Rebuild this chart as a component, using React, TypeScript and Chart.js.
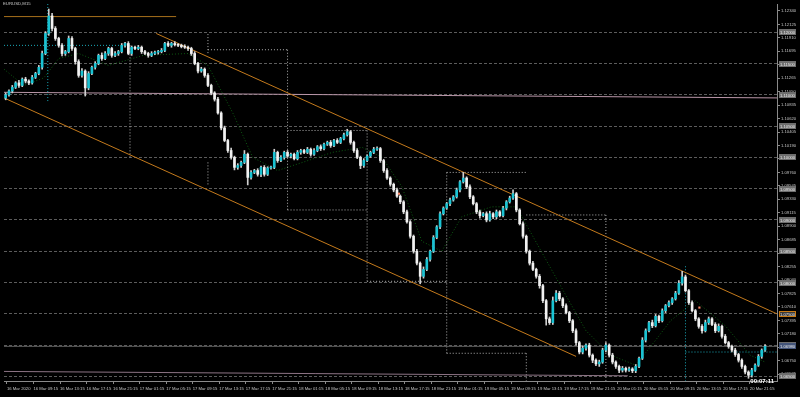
import React, { useEffect, useRef } from "react";
import { Chart, registerables } from "chart.js";
Chart.register(...registerables);

const chartTitle = "EURUSD,M15";
const timerText = "00:07:11";

const priceMin = 1.06427;
const priceMax = 1.12451;
const indexMin = -0.5;
const indexMax = 232.6;

const firstOpen = 1.1095;
const closes = [
  1.1100, 1.1106, 1.1112, 1.1119, 1.1115, 1.1125, 1.1122, 1.1119, 1.1128, 1.1134,
  1.1144, 1.1166, 1.1198, 1.1226, 1.1206, 1.1190, 1.1179, 1.1166, 1.1169, 1.1190,
  1.1174, 1.1153, 1.1131, 1.1138, 1.1111, 1.1134, 1.1144, 1.1150, 1.1163, 1.1158,
  1.1166, 1.1174, 1.1163, 1.1166, 1.1169, 1.1179, 1.1182, 1.1166, 1.1176, 1.1174,
  1.1176, 1.1169, 1.1166, 1.1163, 1.1166, 1.1168, 1.1169, 1.1171, 1.1182, 1.1179,
  1.1182, 1.1180, 1.1179, 1.1177, 1.1176, 1.1174, 1.1166, 1.1150, 1.1138, 1.1141,
  1.1131, 1.1115, 1.1103, 1.1093, 1.1071, 1.1047, 1.1027, 1.1011, 1.1000, 1.0984,
  1.0987, 1.0992, 1.1005, 1.0968, 1.0976, 1.0979, 1.0973, 1.0984, 1.0973, 1.0983,
  1.0984, 1.1008, 1.0995, 1.1000, 1.1008, 1.1002, 1.1005, 1.0998, 1.1008, 1.1011,
  1.1008, 1.1013, 1.1005, 1.1011, 1.1017, 1.1014, 1.1021, 1.1024, 1.1019, 1.1027,
  1.1024, 1.1030, 1.1036, 1.1041, 1.1024, 1.1011, 1.1000, 1.0987, 1.0995, 1.1002,
  1.1008, 1.1013, 1.1014, 1.0995, 1.0979, 1.0967, 1.0957, 1.0948, 1.0938, 1.0929,
  1.0913, 1.0897, 1.0874, 1.0850, 1.0831, 1.0810, 1.0821, 1.0837, 1.0850, 1.0872,
  1.0889, 1.0910, 1.0919, 1.0926, 1.0932, 1.0937, 1.0948, 1.0961, 1.0967, 1.0953,
  1.0937, 1.0926, 1.0913, 1.0907, 1.0910, 1.0900, 1.0910, 1.0905, 1.0913, 1.0907,
  1.0919, 1.0929, 1.0935, 1.0942, 1.0916, 1.0894, 1.0874, 1.0850, 1.0831, 1.0821,
  1.0810, 1.0795, 1.0771, 1.0742, 1.0736, 1.0771, 1.0783, 1.0774, 1.0763, 1.0752,
  1.0739, 1.0723, 1.0704, 1.0689, 1.0695, 1.0700, 1.0684, 1.0676, 1.0670, 1.0673,
  1.0692, 1.0700, 1.0684, 1.0673, 1.0666, 1.0660, 1.0663, 1.0660, 1.0662, 1.0659,
  1.0666, 1.0679, 1.0708, 1.0723, 1.0736, 1.0731, 1.0746, 1.0739, 1.0755, 1.0763,
  1.0768, 1.0774, 1.0783, 1.0799, 1.0809, 1.0787, 1.0768, 1.0755, 1.0742, 1.0730,
  1.0723, 1.0736, 1.0742, 1.0733, 1.0723, 1.0730, 1.0714, 1.0704, 1.0698, 1.0692,
  1.0685, 1.0676, 1.0666, 1.0657, 1.0652, 1.0660, 1.0668, 1.0682, 1.0692, 1.0698,
];

const wickUpPips = [
  3, 2, 3, 2, 4, 2, 3, 2, 3, 2, 3, 4, 3, 11, 4, 3, 2, 3, 2, 4,
  3, 2, 3, 4, 2, 3, 2, 3, 2, 4, 3, 2, 2, 3, 2, 3, 2, 3, 2, 2,
  3, 2, 2, 2, 3, 2, 2, 3, 2, 3, 2, 3, 2, 2, 3, 2, 2, 3, 2, 3,
  2, 3, 2, 2, 3, 2, 3, 2, 4, 2, 3, 2, 6, 2, 3, 2, 3, 2, 3, 2,
  2, 5, 2, 3, 2, 3, 2, 2, 3, 2, 2, 3, 2, 3, 2, 3, 2, 2, 3, 2,
  3, 2, 3, 4, 2, 2, 3, 2, 3, 2, 2, 3, 3, 2, 2, 3, 2, 2, 3, 2,
  2, 3, 2, 2, 3, 2, 4, 3, 2, 3, 2, 3, 2, 2, 3, 2, 3, 2, 9, 2,
  3, 2, 2, 3, 2, 3, 4, 2, 3, 2, 3, 2, 3, 6, 2, 2, 3, 2, 2, 3,
  2, 3, 2, 2, 3, 6, 4, 3, 2, 3, 2, 2, 3, 2, 4, 2, 3, 2, 2, 3,
  3, 4, 2, 3, 2, 2, 3, 2, 3, 2, 3, 2, 4, 3, 2, 4, 3, 2, 3, 2,
  3, 2, 3, 4, 9, 3, 2, 3, 2, 2, 3, 4, 3, 2, 3, 4, 2, 3, 2, 2,
  3, 2, 2, 2, 2, 3, 2, 3, 2, 3,
];

const wickDownPips = [
  3, 2, 3, 2, 3, 2, 3, 3, 2, 2, 2, 3, 2, 3, 4, 3, 3, 4, 3, 2,
  3, 4, 3, 3, 13, 3, 2, 3, 2, 3, 2, 3, 3, 2, 3, 2, 3, 2, 3, 2,
  2, 3, 2, 3, 2, 2, 3, 2, 2, 2, 3, 2, 2, 2, 2, 3, 3, 2, 3, 2,
  3, 2, 3, 3, 2, 3, 2, 3, 3, 4, 3, 3, 2, 12, 3, 2, 3, 4, 3, 2,
  2, 2, 3, 2, 3, 2, 3, 2, 2, 3, 2, 2, 3, 2, 2, 3, 2, 2, 3, 2,
  2, 2, 2, 2, 3, 3, 2, 5, 3, 2, 2, 2, 2, 3, 3, 2, 3, 3, 2, 3,
  3, 2, 3, 3, 3, 12, 3, 2, 3, 2, 2, 3, 2, 2, 3, 2, 2, 3, 2, 3,
  3, 2, 3, 4, 2, 3, 2, 3, 3, 2, 2, 3, 2, 2, 3, 2, 3, 3, 3, 2,
  3, 4, 3, 10, 3, 3, 2, 3, 3, 2, 3, 3, 4, 3, 3, 3, 3, 4, 3, 4,
  2, 3, 3, 3, 3, 4, 3, 3, 2, 3, 3, 2, 2, 3, 2, 3, 2, 3, 2, 3,
  2, 3, 2, 2, 3, 2, 3, 2, 3, 3, 4, 2, 3, 2, 3, 2, 3, 2, 3, 3,
  3, 3, 3, 3, 5, 3, 2, 2, 3, 2,
];

const timeTickStart = 0.4;
const barsPerTimeTick = 8;
const timeLabels = [
  "16 Mar 2020", "16 Mar 09:15", "16 Mar 13:15", "16 Mar 17:15", "16 Mar 21:15",
  "17 Mar 01:15", "17 Mar 05:15", "17 Mar 09:15", "17 Mar 13:15", "17 Mar 17:15",
  "17 Mar 21:15", "18 Mar 01:15", "18 Mar 05:15", "18 Mar 09:15", "18 Mar 13:15",
  "18 Mar 17:15", "18 Mar 21:15", "19 Mar 01:15", "19 Mar 05:15", "19 Mar 09:15",
  "19 Mar 13:15", "19 Mar 17:15", "19 Mar 21:15", "20 Mar 01:15", "20 Mar 05:15",
  "20 Mar 09:15", "20 Mar 13:15", "20 Mar 17:15", "20 Mar 21:15",
];

const priceTicks = [
  1.1234, 1.12125, 1.1191, 1.11695, 1.1148, 1.11265, 1.1105, 1.10835, 1.1062, 1.10405,
  1.1019, 1.09975, 1.0976, 1.09545, 1.0933, 1.09115, 1.089, 1.08685, 1.0847, 1.08255,
  1.0804, 1.07825, 1.0761, 1.07395, 1.0718, 1.06965, 1.0675, 1.06535,
];

const roundLevels = [1.12, 1.115, 1.11, 1.105, 1.1, 1.095, 1.09, 1.085, 1.08, 1.075, 1.07, 1.065];

// trend objects: [barIndex, price] pairs
const channelUpper = [[45.4, 1.1198], [232.6, 1.075]];
const channelLower = [[-0.5, 1.1095], [172.0, 1.0682]];
const highLine = [[-0.5, 1.1225], [51.4, 1.1225]];
const pinkLine = [[-0.5, 1.1104], [232.6, 1.1095]];
const bottomLine = [[-0.5, 1.0658], [187.6, 1.0651]];
const bidPrice = 1.0698;

// dotted session segments: [bar1, price1, bar2, price2]
const sessionSegments = [
  [37.5, 1.1179, 37.5, 1.1],
  [61, 1.1197, 61, 1.1166],
  [61, 1.0992, 61, 1.0956],
  [61, 1.1172, 85, 1.1172],
  [85, 1.1172, 85, 1.0916],
  [85, 1.0916, 109, 1.0916],
  [85, 1.1043, 109, 1.1043],
  [109, 1.1043, 109, 1.0802],
  [109, 1.0802, 133, 1.0802],
  [133, 1.0976, 133, 1.0687],
  [133, 1.0976, 157, 1.0976],
  [133, 1.0687, 157, 1.0687],
  [157, 1.0687, 157, 1.0643],
  [157, 1.0908, 181, 1.0908],
  [181, 1.0908, 181, 1.0643],
];
const cyanSegments = [
  [12.7, 1.1245, 12.7, 1.1087],
  [-0.5, 1.1179, 37.5, 1.1179],
  [205, 1.0826, 205, 1.0643],
  [205, 1.0689, 232.6, 1.0689],
];

const maLine = [
  [-0.5, 1.1141], [5.5, 1.1115], [11.5, 1.1127], [16, 1.1158], [22, 1.1166], [31, 1.1147],
  [41.5, 1.1163], [55, 1.1166], [61, 1.1147], [68.5, 1.1071], [74.5, 1.1], [82, 1.0979],
  [89.5, 1.0992], [98.5, 1.1008], [107.5, 1.1016], [113.5, 1.1], [119.5, 1.0953], [125.5, 1.0866],
  [131.5, 1.085], [137.5, 1.0905], [146.5, 1.0921], [154, 1.0921], [161.5, 1.085], [169, 1.0779],
  [175, 1.0723], [182.5, 1.0684], [190, 1.0668], [196, 1.0708], [200.5, 1.0739], [208, 1.0771],
  [217, 1.0731], [224.5, 1.0684], [229, 1.0673],
];

const markers = [[118.6, 1.0942], [209.2, 1.076]];

const FONT = "Liberation Sans";

function toPoints(pairs: number[][]) {
  return pairs.map(([x, y]) => ({ x, y }));
}
function segPoints(segs: number[][]) {
  const out: any[] = [];
  segs.forEach(([x1, y1, x2, y2]) => {
    out.push({ x: x1, y: y1 }, { x: x2, y: y2 }, { x: x2, y: null });
  });
  return out;
}

const overlayPlugin = {
  id: "mtOverlay",
  beforeDraw(chart: any) {
    const { ctx, width, height } = chart;
    ctx.save();
    ctx.fillStyle = "#000000";
    ctx.fillRect(0, 0, width, height);
    ctx.restore();
  },
  afterDraw(chart: any) {
    const { ctx, chartArea } = chart;
    const ys = chart.scales.y;
    ctx.save();
    ctx.font = `4.3px "${FONT}"`;
    ctx.textBaseline = "top";
    ctx.textAlign = "left";
    ctx.fillStyle = "#c8c8c8";
    ctx.fillText(chartTitle, 3, 2);

    ctx.font = `4.2px "${FONT}"`;
    ctx.textBaseline = "middle";
    const boxX = chartArea.right + 2;
    const tag = (v: number, fill: string, stroke?: string) => {
      const py = Math.round(ys.getPixelForValue(v));
      ctx.fillStyle = fill;
      ctx.fillRect(boxX, py - 3, 17, 6);
      if (stroke) {
        ctx.strokeStyle = stroke;
        ctx.lineWidth = 1;
        ctx.strokeRect(boxX + 0.5, py - 2.5, 16, 5);
      }
      ctx.fillStyle = "#e8e8e8";
      ctx.fillText(v.toFixed(5), boxX + 1, py + 0.5);
    };
    roundLevels.forEach((v) => tag(v, "#6e6e6e"));
    tag(channelUpper[1][1], "#3a3a3a", "#c87a14");
    tag(bidPrice, "#44557a");

    ctx.font = `bold 6px "${FONT}"`;
    ctx.textAlign = "right";
    ctx.fillStyle = "#ffffff";
    ctx.fillText(timerText, chartArea.right - 3, chartArea.bottom);
    ctx.restore();
  },
};

export default function App() {
  const ref = useRef<HTMLCanvasElement>(null);
  useEffect(() => {
    const opens = closes.map((c, i) => (i === 0 ? firstOpen : closes[i - 1]));
    const highs = closes.map((c, i) => Math.max(opens[i], c) + wickUpPips[i] * 0.0001);
    const lows = closes.map((c, i) => Math.min(opens[i], c) - wickDownPips[i] * 0.0001);
    const wickData = closes.map((c, i) => ({ x: i, y: [lows[i], highs[i]] }));
    const bodyData = closes.map((c, i) => ({ x: i, y: [opens[i], c] }));
    const bodyColors = closes.map((c, i) => (c >= opens[i] ? "#19c3d3" : "#f2f2f2"));

    const lineDs = (data: any[], color: string, dash: number[] = [], width = 1) => ({
      type: "line" as const,
      data,
      borderColor: color,
      borderWidth: width,
      borderDash: dash,
      pointRadius: 0,
      fill: false,
      tension: 0,
      spanGaps: false,
    });

    const chart = new Chart(ref.current as HTMLCanvasElement, {
      type: "bar",
      data: {
        datasets: [
          {
            type: "line",
            data: toPoints(markers),
            showLine: false,
            pointStyle: "rect",
            pointRadius: 1.5,
            pointBackgroundColor: "#ff8a6a",
            pointBorderWidth: 0,
          } as any,
          {
            data: bodyData as any,
            backgroundColor: bodyColors,
            barThickness: 2,
            minBarLength: 1,
            grouped: false,
          } as any,
          {
            data: wickData as any,
            backgroundColor: "#cfcfcf",
            barThickness: 1,
            grouped: false,
          } as any,
          lineDs(toPoints(channelUpper), "#c47a1c"),
          lineDs(toPoints(channelLower), "#c47a1c"),
          lineDs(toPoints(highLine), "#a8701c"),
          lineDs(toPoints(pinkLine), "#b996a8"),
          lineDs(toPoints(bottomLine), "#8c7384"),
          lineDs(toPoints([[indexMin, bidPrice], [indexMax, bidPrice]]), "#5a5a5a"),
          lineDs(segPoints(sessionSegments), "#b0b0b0", [1, 2]),
          lineDs(segPoints(cyanSegments), "#1aa8b8", [1, 2]),
          lineDs(toPoints(maLine), "#0d5a12", [1, 2]),
        ] as any,
      },
      options: {
        animation: false,
        responsive: false,
        devicePixelRatio: 1,
        layout: { padding: 0 },
        plugins: { legend: { display: false }, tooltip: { enabled: false } },
        scales: {
          x: {
            type: "linear",
            min: indexMin,
            max: indexMax,
            offset: false,
            afterBuildTicks: (s: any) => {
              s.ticks = timeLabels.map((_, k) => ({ value: timeTickStart + barsPerTimeTick * k }));
            },
            afterFit: (s: any) => {
              s.height = 16;
            },
            grid: { drawOnChartArea: false, drawTicks: true, tickLength: 3, color: "#8a8a8a", offset: false },
            border: { display: true, color: "#8a8a8a" },
            ticks: {
              autoSkip: false,
              maxRotation: 0,
              minRotation: 0,
              align: "start",
              padding: 2,
              color: "#c4c4c4",
              font: { size: 4.2, family: FONT },
              callback: (_v: any, i: number) => timeLabels[i],
            },
          },
          y: {
            type: "linear",
            position: "right",
            min: priceMin,
            max: priceMax,
            beginAtZero: false,
            afterBuildTicks: (s: any) => {
              s.ticks = priceTicks.map((v) => ({ value: v }));
            },
            afterFit: (s: any) => {
              s.width = 23;
            },
            grid: { drawOnChartArea: false, drawTicks: true, tickLength: 3, color: "#8a8a8a" },
            border: { display: true, color: "#8a8a8a" },
            ticks: {
              autoSkip: false,
              padding: 1,
              color: "#c4c4c4",
              font: { size: 4.2, family: FONT },
              callback: (v: any) => Number(v).toFixed(5),
            },
          },
          yGrid: {
            type: "linear",
            position: "right",
            min: priceMin,
            max: priceMax,
            beginAtZero: false,
            afterBuildTicks: (s: any) => {
              s.ticks = roundLevels.map((v) => ({ value: v }));
            },
            afterFit: (s: any) => {
              s.width = 0;
            },
            grid: { drawOnChartArea: true, drawTicks: false, color: "#5c5c5c", lineWidth: 1 },
            border: { display: false, dash: [3, 2] },
            ticks: { display: false },
          },
        } as any,
      },
      plugins: [overlayPlugin],
    });
    return () => chart.destroy();
  }, []);

  return (
    <div style={{ position: "fixed", left: 0, top: 0, width: 800, height: 397, background: "#000" }}>
      <canvas ref={ref} width={800} height={397} style={{ display: "block", width: 800, height: 397 }} />
    </div>
  );
}
